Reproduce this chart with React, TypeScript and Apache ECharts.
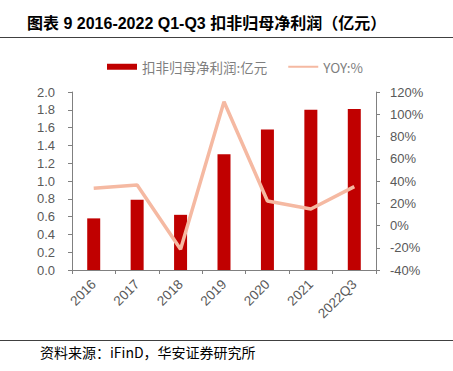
import React, { useEffect, useRef } from "react";
import * as echarts from "echarts";

const categories = ["2016", "2017", "2018", "2019", "2020", "2021", "2022Q3"];
const profit = [0.58, 0.79, 0.62, 1.3, 1.58, 1.8, 1.81];
const yoy = [33.5, 36.4, -21.4, 111.3, 22.0, 14.8, 34.9];
const leftTicks = { min: 0, max: 2, interval: 0.2 };
const rightTicks = { min: -40, max: 120, interval: 20 };

const titleText = "图表 9 2016-2022 Q1-Q3 扣非归母净利润（亿元）";
const sourceText = "资料来源：iFinD，华安证券研究所";
const barName = "扣非归母净利润:亿元";
const lineName = "YOY:%";

export default function App() {
  const ref = useRef<HTMLDivElement>(null);
  useEffect(() => {
    document.body.style.margin = "0";
    const chart = echarts.init(ref.current!, null, { renderer: "svg" });
    const axisGray = "#808080";
    const labelGray = "#595959";
    const font = "Arial, 'Liberation Sans', 'Noto Sans CJK SC', sans-serif";
    chart.setOption({
      animation: false,
      backgroundColor: "#ffffff",
      textStyle: { fontFamily: font },
      graphic: [
        {
          type: "text",
          left: 27,
          top: 15,
          style: {
            text: titleText,
            fontSize: 16,
            fontWeight: "bold",
            fill: "#000000",
            fontFamily: "Arial, 'Liberation Sans', 'Noto Sans CJK SC', sans-serif",
          },
        },
        {
          type: "line",
          shape: { x1: 0, y1: 37.5, x2: 453, y2: 37.5 },
          style: { stroke: "#404040", lineWidth: 1.2 },
        },
        {
          type: "line",
          shape: { x1: 0, y1: 340.5, x2: 453, y2: 340.5 },
          style: { stroke: "#404040", lineWidth: 1 },
        },
        {
          type: "text",
          left: 40,
          top: 345,
          style: {
            text: sourceText,
            fontSize: 14,
            fill: "#000000",
            fontFamily: "'Noto Sans CJK SC', sans-serif",
          },
        },
      ],
      legend: {
        left: 102,
        top: 55,
        itemWidth: 30,
        itemHeight: 6,
        itemGap: 20,
        textStyle: { color: "#7f7f7f", fontSize: 13.5, fontFamily: "'Noto Sans CJK SC', sans-serif" },
        data: [
          { name: barName, icon: "rect" },
          { name: lineName, itemStyle: { opacity: 0 } },
        ],
      },
      grid: { left: 72, right: 77, top: 92, bottom: 101, containLabel: false },
      xAxis: {
        type: "category",
        data: categories,
        axisLine: { lineStyle: { color: axisGray, width: 1 } },
        axisTick: { show: true, length: 4, lineStyle: { color: axisGray } },
        axisLabel: { rotate: 45, color: labelGray, fontSize: 13.5, margin: 12, interval: 0 },
      },
      yAxis: [
        {
          type: "value",
          min: leftTicks.min,
          max: leftTicks.max,
          interval: leftTicks.interval,
          axisLine: { show: true, lineStyle: { color: axisGray } },
          axisTick: { show: true, length: 4, lineStyle: { color: axisGray } },
          splitLine: { show: false },
          axisLabel: {
            color: labelGray,
            fontSize: 13,
            margin: 17,
            formatter: (v: number) => v.toFixed(1),
          },
        },
        {
          type: "value",
          min: rightTicks.min,
          max: rightTicks.max,
          interval: rightTicks.interval,
          position: "right",
          axisLine: { show: true, lineStyle: { color: axisGray } },
          axisTick: { show: true, length: 4, lineStyle: { color: axisGray } },
          splitLine: { show: false },
          axisLabel: { color: labelGray, fontSize: 13, margin: 14, formatter: "{value}%" },
        },
      ],
      series: [
        {
          name: barName,
          type: "bar",
          data: profit,
          barWidth: 13,
          itemStyle: { color: "#C00000" },
          yAxisIndex: 0,
        },
        {
          name: lineName,
          type: "line",
          data: yoy,
          yAxisIndex: 1,
          symbol: "none",
          lineStyle: { color: "#F5B9A2", width: 3.5 },
          itemStyle: { color: "#F5B9A2" },
        },
      ],
    });
    return () => chart.dispose();
  }, []);
  return <div ref={ref} style={{ width: 453, height: 371 }} />;
}
